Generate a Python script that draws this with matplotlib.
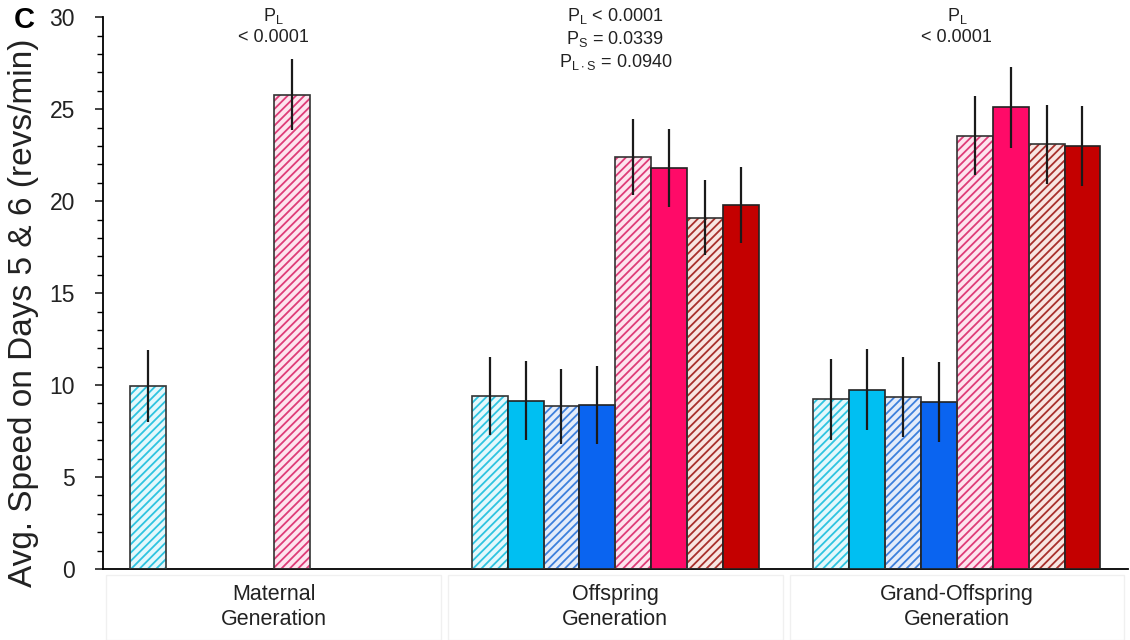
import matplotlib.pyplot as plt
import numpy as np
from matplotlib.patches import Rectangle

plt.rcParams['font.family'] = ['Liberation Sans', 'DejaVu Sans']
plt.rcParams['hatch.linewidth'] = 1.3

groups = ['Maternal\nGeneration', 'Offspring\nGeneration', 'Grand-Offspring\nGeneration']
nan = np.nan

# 8 series per group, maternal only has two of them
means = [
    [9.95, nan, nan, nan, 25.8, nan, nan, nan],
    [9.4, 9.15, 8.85, 8.92, 22.4, 21.8, 19.1, 19.8],
    [9.23, 9.75, 9.35, 9.08, 23.55, 25.1, 23.1, 23.0],
]
errs = [
    [1.95, nan, nan, nan, 1.95, nan, nan, nan],
    [2.1, 2.15, 2.05, 2.1, 2.05, 2.1, 2.05, 2.05],
    [2.2, 2.2, 2.2, 2.2, 2.15, 2.2, 2.15, 2.2],
]
colors = ['#2ec4e0', '#00bff2', '#3d7fdc', '#0a64f0', '#de3c78', '#ff0a68', '#a8302c', '#c40000']
light = ['#e4f8fc', None, '#e4ecfa', None, '#fde4ee', None, '#f8e6e2', None]
hatched = [True, False, True, False, True, False, True, False]

pvals = ['$\\mathregular{P_L}$\n< 0.0001',
         '$\\mathregular{P_L}$ < 0.0001\n$\\mathregular{P_S}$ = 0.0339\n$\\mathregular{P_{L\\cdot S}}$ = 0.0940',
         '$\\mathregular{P_L}$\n< 0.0001']

fig = plt.figure(figsize=(11.3, 6.4), dpi=100)
ax = fig.add_axes([0.091, 0.111, 0.907, 0.862])

w = 0.105
x = np.arange(len(groups))
means = np.array(means)
errs = np.array(errs)

for i in range(8):
    xs = x + (i - 3.5) * w
    vals = means[:, i]
    if hatched[i]:
        ax.bar(xs, vals, w, color=light[i], edgecolor=colors[i], hatch='////', linewidth=0, zorder=2)
        ax.bar(xs, vals, w, fill=False, edgecolor='#333333', linewidth=1.2, zorder=3)
    else:
        ax.bar(xs, vals, w, color=colors[i], edgecolor='#222222', linewidth=1.2, zorder=3)
    ax.errorbar(xs, vals, yerr=errs[:, i], fmt='none', ecolor='#1a1a1a', elinewidth=1.6, capsize=0, zorder=4)

ax.set_xlim(-0.5, 2.5)
ax.set_ylim(0, 30)
ax.set_yticks(range(0, 31, 5))
ax.set_yticks(range(0, 31), minor=True)
ax.tick_params(axis='y', which='major', length=6, width=1.2, labelsize=16.5, colors='#222222', pad=14)
ax.tick_params(axis='y', which='minor', length=4, width=1.0)
ax.set_xticks([])
for s in ['top', 'right']:
    ax.spines[s].set_visible(False)
ax.spines['left'].set_linewidth(1.3)
ax.spines['bottom'].set_linewidth(1.3)
ax.set_ylabel('Avg. Speed on Days 5 & 6 (revs/min)', fontsize=24, color='#222222')
ax.yaxis.set_label_coords(-0.062, 0.465)

# category labels in faint boxes
for g in range(len(groups)):
    ax.text(g, -0.8, groups[g], ha='center', va='top', fontsize=15.5, color='#222222', linespacing=1.3)
    r = Rectangle((g - 0.49, -3.85), 0.98, 3.5, transform=ax.transData, fill=False,
                  edgecolor='#f0f0f0', linewidth=1, clip_on=False)
    ax.add_patch(r)

for g in range(len(groups)):
    ax.text(g, 30.6, pvals[g], ha='center', va='top', fontsize=13, color='#222222', linespacing=1.2)

fig.text(0.012, 0.99, 'C', fontsize=21, fontweight='bold', va='top', ha='left')

fig.savefig('out.png', dpi=100)
